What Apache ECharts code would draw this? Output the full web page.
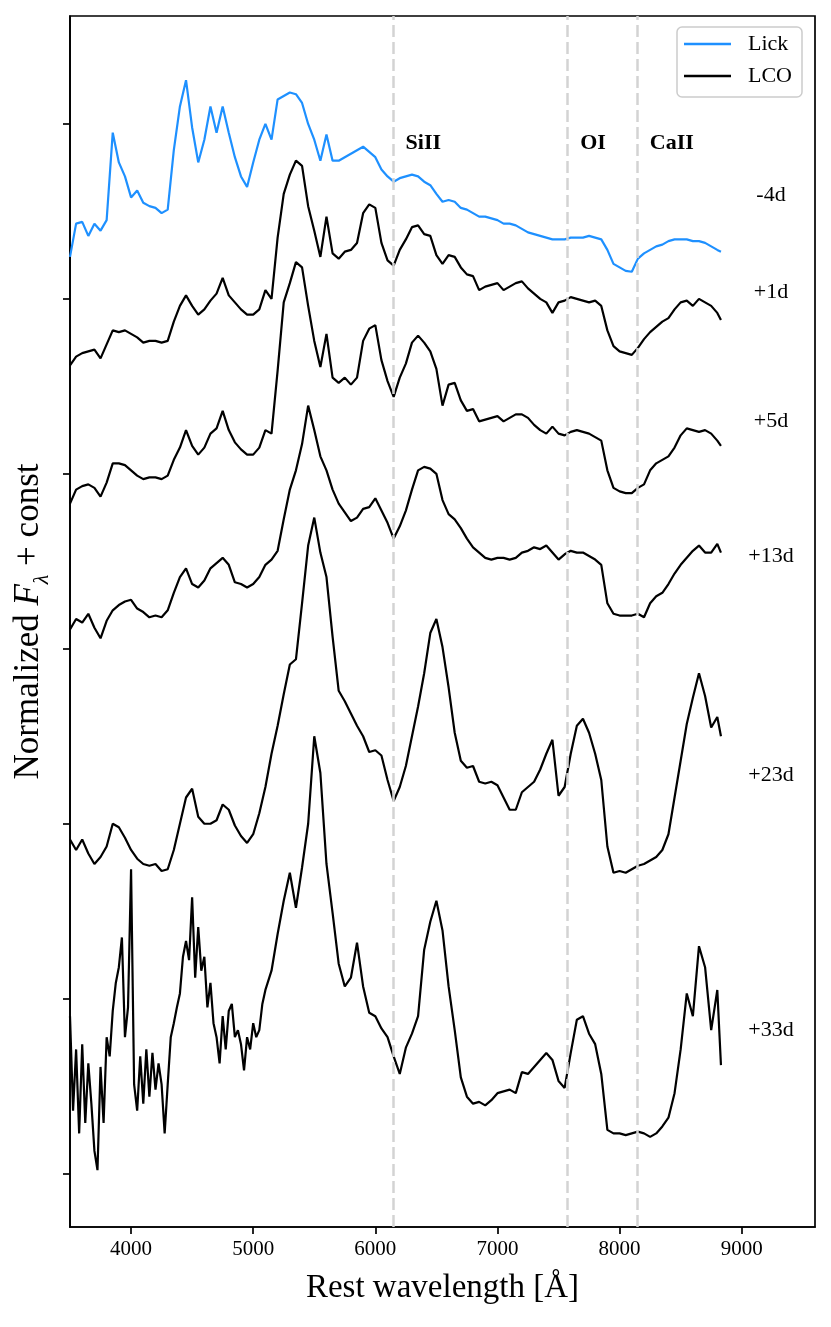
<!DOCTYPE html>
<html>
<head>
<meta charset="utf-8">
<title>Spectral sequence</title>
<script src="https://cdn.jsdelivr.net/npm/echarts@6/dist/echarts.min.js"></script>
<style>
  html, body { margin: 0; padding: 0; background: #fff; }
  #chart { width: 831px; height: 1327px; }
</style>
</head>
<body>
<div id="chart"></div>
<script>
// rest wavelength grid (Angstrom) shared by the Lick and first four LCO spectra
const wave = [
  3500, 3550, 3600, 3650, 3700, 3750, 3800, 3850, 3900, 3950,
  4000, 4050, 4100, 4150, 4200, 4250, 4300, 4350, 4400, 4450,
  4500, 4550, 4600, 4650, 4700, 4750, 4800, 4850, 4900, 4950,
  5000, 5050, 5100, 5150, 5200, 5250, 5300, 5350, 5400, 5450,
  5500, 5550, 5600, 5650, 5700, 5750, 5800, 5850, 5900, 5950,
  6000, 6050, 6100, 6150, 6200, 6250, 6300, 6350, 6400, 6450,
  6500, 6550, 6600, 6650, 6700, 6750, 6800, 6850, 6900, 6950,
  7000, 7050, 7100, 7150, 7200, 7250, 7300, 7350, 7400, 7450,
  7500, 7550, 7600, 7650, 7700, 7750, 7800, 7850, 7900, 7950,
  8000, 8050, 8100, 8150, 8200, 8250, 8300, 8350, 8400, 8450,
  8500, 8550, 8600, 8650, 8700, 8750, 8800, 8830
];
// the noisy +33d spectrum is read more finely in the blue
const wave33 = [
  3500, 3525, 3550, 3575, 3600, 3625, 3650, 3675, 3700, 3725,
  3750, 3775, 3800, 3825, 3850, 3875, 3900, 3925, 3950, 3975,
  4000, 4025, 4050, 4075, 4100, 4125, 4150, 4175, 4200, 4225,
  4250, 4275, 4300, 4325, 4350, 4375, 4400, 4425, 4450, 4475,
  4500, 4525, 4550, 4575, 4600, 4625, 4650, 4675, 4700, 4725,
  4750, 4775, 4800, 4825, 4850, 4875, 4900, 4925, 4950, 4975,
  5000, 5025, 5050, 5075, 5100,
  5150, 5200, 5250, 5300, 5350, 5400, 5450, 5500, 5550, 5600,
  5650, 5700, 5750, 5800, 5850, 5900, 5950, 6000, 6050, 6100,
  6150, 6200, 6250, 6300, 6350, 6400, 6450, 6500, 6550, 6600,
  6650, 6700, 6750, 6800, 6850, 6900, 6950, 7000, 7050, 7100,
  7150, 7200, 7250, 7300, 7350, 7400, 7450, 7500, 7550, 7600,
  7650, 7700, 7750, 7800, 7850, 7900, 7950, 8000, 8050, 8100,
  8150, 8200, 8250, 8300, 8350, 8400, 8450, 8500, 8550, 8600,
  8650, 8700, 8750, 8800, 8830
];

// normalized flux + offset, one array per epoch
const lickM4 = [
  5.24, 5.43, 5.44, 5.36, 5.43, 5.39, 5.45, 5.95, 5.78, 5.70,
  5.58, 5.62, 5.55, 5.53, 5.52, 5.49, 5.51, 5.85, 6.10, 6.25,
  5.98, 5.78, 5.91, 6.10, 5.95, 6.10, 5.95, 5.81, 5.70, 5.64,
  5.78, 5.91, 6.00, 5.91, 6.14, 6.16, 6.18, 6.17, 6.12, 6.00,
  5.91, 5.79, 5.94, 5.79, 5.79, 5.81, 5.83, 5.85, 5.87, 5.84,
  5.81, 5.74, 5.70, 5.67, 5.69, 5.70, 5.71, 5.70, 5.67, 5.65,
  5.60, 5.555, 5.565, 5.555, 5.52, 5.51, 5.49, 5.47, 5.47, 5.46,
  5.45, 5.43, 5.43, 5.42, 5.40, 5.38, 5.37, 5.36, 5.35, 5.34,
  5.34, 5.34, 5.35, 5.35, 5.35, 5.36, 5.35, 5.34, 5.28, 5.20,
  5.18, 5.16, 5.155, 5.23, 5.26, 5.28, 5.30, 5.31, 5.33, 5.34,
  5.34, 5.34, 5.33, 5.33, 5.32, 5.30, 5.28, 5.27
];
const lcoP1 = [
  4.62, 4.67, 4.69, 4.70, 4.71, 4.66, 4.74, 4.82, 4.81, 4.82,
  4.80, 4.78, 4.75, 4.76, 4.76, 4.75, 4.76, 4.87, 4.96, 5.02,
  4.96, 4.91, 4.94, 4.99, 5.03, 5.12, 5.02, 4.98, 4.94, 4.91,
  4.91, 4.94, 5.05, 5.00, 5.35, 5.60, 5.71, 5.79, 5.76, 5.53,
  5.39, 5.24, 5.47, 5.26, 5.23, 5.27, 5.28, 5.32, 5.49, 5.54,
  5.52, 5.32, 5.22, 5.19, 5.28, 5.34, 5.41, 5.42, 5.37, 5.36,
  5.25, 5.20, 5.25, 5.24, 5.18, 5.14, 5.13, 5.05, 5.07, 5.08,
  5.09, 5.05, 5.07, 5.09, 5.10, 5.06, 5.03, 5.00, 4.98, 4.92,
  4.98, 4.99, 5.01, 5.00, 4.99, 4.98, 4.99, 4.96, 4.82, 4.73,
  4.70, 4.69, 4.68, 4.72, 4.77, 4.81, 4.84, 4.87, 4.89, 4.94,
  4.98, 4.99, 4.96, 5.00, 4.98, 4.96, 4.92, 4.88
];
const lcoP5 = [
  3.83, 3.91, 3.93, 3.94, 3.92, 3.87, 3.95, 4.06, 4.06, 4.05,
  4.02, 3.99, 3.97, 3.98, 3.98, 3.97, 3.99, 4.08, 4.15, 4.25,
  4.16, 4.11, 4.15, 4.23, 4.26, 4.36, 4.25, 4.18, 4.14, 4.11,
  4.11, 4.15, 4.25, 4.23, 4.59, 4.98, 5.09, 5.21, 5.18, 4.96,
  4.76, 4.61, 4.80, 4.55, 4.52, 4.55, 4.51, 4.55, 4.76, 4.83,
  4.85, 4.65, 4.53, 4.44, 4.55, 4.63, 4.75, 4.79, 4.75, 4.70,
  4.60, 4.39, 4.51, 4.52, 4.42, 4.36, 4.37, 4.30, 4.31, 4.32,
  4.33, 4.30, 4.32, 4.34, 4.34, 4.32, 4.28, 4.25, 4.23, 4.27,
  4.23, 4.22, 4.24, 4.25, 4.24, 4.23, 4.21, 4.19, 4.02, 3.92,
  3.90, 3.89, 3.89, 3.92, 3.94, 4.02, 4.06, 4.08, 4.10, 4.15,
  4.22, 4.26, 4.25, 4.24, 4.25, 4.23, 4.19, 4.16
];
const lcoP13 = [
  3.11, 3.17, 3.15, 3.20, 3.12, 3.06, 3.16, 3.22, 3.25, 3.27,
  3.28, 3.23, 3.21, 3.18, 3.19, 3.18, 3.22, 3.32, 3.41, 3.46,
  3.37, 3.35, 3.39, 3.46, 3.49, 3.52, 3.48, 3.38, 3.37, 3.35,
  3.37, 3.41, 3.48, 3.51, 3.56, 3.74, 3.91, 4.02, 4.17, 4.39,
  4.25, 4.10, 4.02, 3.91, 3.83, 3.78, 3.73, 3.75, 3.80, 3.81,
  3.86, 3.79, 3.72, 3.63, 3.70, 3.79, 3.91, 4.02, 4.04, 4.03,
  4.00, 3.85, 3.77, 3.74, 3.69, 3.63, 3.58, 3.55, 3.52, 3.51,
  3.52, 3.52, 3.51, 3.52, 3.55, 3.56, 3.58, 3.57, 3.59, 3.55,
  3.51, 3.54, 3.56, 3.55, 3.55, 3.53, 3.51, 3.48, 3.26, 3.20,
  3.19, 3.19, 3.19, 3.20, 3.18, 3.26, 3.30, 3.32, 3.37, 3.43,
  3.48, 3.52, 3.56, 3.59, 3.55, 3.55, 3.60, 3.55
];
const lcoP23 = [
  1.91, 1.85, 1.91, 1.83, 1.77, 1.81, 1.87, 2.00, 1.98, 1.92,
  1.85, 1.80, 1.77, 1.76, 1.77, 1.73, 1.74, 1.85, 2.00, 2.15,
  2.20, 2.04, 2.00, 2.00, 2.02, 2.11, 2.08, 1.99, 1.93, 1.89,
  1.94, 2.06, 2.21, 2.40, 2.56, 2.74, 2.91, 2.94, 3.26, 3.59,
  3.75, 3.55, 3.41, 3.07, 2.76, 2.70, 2.63, 2.56, 2.50, 2.41,
  2.42, 2.39, 2.25, 2.13, 2.21, 2.33, 2.50, 2.67, 2.86, 3.09,
  3.17, 3.01, 2.78, 2.52, 2.36, 2.32, 2.33, 2.24, 2.23, 2.24,
  2.22, 2.15, 2.08, 2.08, 2.18, 2.21, 2.24, 2.31, 2.40, 2.48,
  2.16, 2.21, 2.40, 2.56, 2.60, 2.52, 2.40, 2.25, 1.87, 1.72,
  1.73, 1.72, 1.74, 1.76, 1.77, 1.79, 1.81, 1.85, 1.94, 2.15,
  2.36, 2.57, 2.72, 2.86, 2.73, 2.55, 2.61, 2.50
];
const lcoP33 = [
  0.90, 0.36, 0.71, 0.23, 0.74, 0.29, 0.63, 0.40, 0.13, 0.02,
  0.61, 0.29, 0.78, 0.67, 0.93, 1.09, 1.18, 1.35, 0.78, 0.95,
  1.74, 0.51, 0.36, 0.67, 0.40, 0.71, 0.44, 0.69, 0.48, 0.63,
  0.51, 0.23, 0.51, 0.78, 0.86, 0.95, 1.03, 1.24, 1.33, 1.22,
  1.58, 1.12, 1.41, 1.16, 1.24, 0.95, 1.09, 0.86, 0.78, 0.63,
  0.90, 0.71, 0.93, 0.97, 0.78, 0.82, 0.74, 0.59, 0.78, 0.71,
  0.86, 0.78, 0.82, 0.97, 1.05,
  1.16, 1.37, 1.56, 1.72, 1.52, 1.75, 2.00, 2.50, 2.29, 1.77,
  1.49, 1.20, 1.07, 1.12, 1.32, 1.07, 0.92, 0.90, 0.83, 0.78,
  0.67, 0.57, 0.72, 0.80, 0.90, 1.28, 1.44, 1.56, 1.39, 1.07,
  0.82, 0.55, 0.44, 0.40, 0.41, 0.39, 0.42, 0.46, 0.47, 0.48,
  0.46, 0.58, 0.57, 0.61, 0.65, 0.69, 0.65, 0.53, 0.49, 0.69,
  0.88, 0.90, 0.80, 0.74, 0.57, 0.25, 0.23, 0.23, 0.22, 0.23,
  0.24, 0.23, 0.21, 0.23, 0.27, 0.32, 0.46, 0.71, 1.03, 0.90,
  1.30, 1.18, 0.82, 1.05, 0.62
];

const epochNames = ['-4d', '+1d', '+5d', '+13d', '+23d', '+33d'];
const epochLabelY = [5.59, 5.04, 4.30, 3.53, 2.28, 0.82];
const epochLabelX = 9240;

const ionNames = ['SiII', 'OI', 'CaII'];
const ionWave = [6145, 7575, 8145];
const ionLabelY = 5.89;

const xTicks = [4000, 5000, 6000, 7000, 8000, 9000];
const yTicks = [0, 1, 2, 3, 4, 5, 6];

const FONT = 'Liberation Serif';
const pairs = (xs, vals) => xs.map((w, i) => [w, vals[i]]);

const lcoSpectra = [
  [wave, lcoP1], [wave, lcoP5], [wave, lcoP13], [wave, lcoP23], [wave33, lcoP33]
];

const chart = echarts.init(document.getElementById('chart'));

const series = [
  {
    name: 'Lick',
    type: 'line',
    data: pairs(wave, lickM4),
    symbol: 'none',
    lineStyle: { color: '#1e90ff', width: 2.2 },
    itemStyle: { color: '#1e90ff' },
    z: 2
  }
];
lcoSpectra.forEach(([xs, vals]) => {
  series.push({
    name: 'LCO',
    type: 'line',
    data: pairs(xs, vals),
    symbol: 'none',
    lineStyle: { color: '#000', width: 2.2 },
    itemStyle: { color: '#000' },
    z: 2
  });
});

// dashed feature lines, drawn over the spectra
series.push({
  name: 'features',
  type: 'line',
  data: [],
  z: 5,
  markLine: {
    silent: true,
    symbol: 'none',
    label: { show: false },
    lineStyle: { color: '#d3d3d3', type: [12, 5], width: 2.5 },
    data: ionWave.map(x => ({ xAxis: x }))
  }
});

series.push({
  name: 'ions',
  type: 'scatter',
  symbolSize: 1,
  itemStyle: { color: 'rgba(0,0,0,0)' },
  z: 6,
  label: {
    show: true,
    position: 'right',
    distance: 12,
    formatter: p => ionNames[p.dataIndex],
    fontFamily: FONT,
    fontSize: 22,
    fontWeight: 'bold',
    color: '#000',
    opacity: 1,
    textBorderWidth: 0
  },
  data: ionWave.map(x => [x, ionLabelY])
});

series.push({
  name: 'epochs',
  type: 'scatter',
  symbolSize: 1,
  itemStyle: { color: 'rgba(0,0,0,0)' },
  z: 6,
  label: {
    show: true,
    position: 'inside',
    formatter: p => epochNames[p.dataIndex],
    fontFamily: FONT,
    fontSize: 22,
    color: '#000',
    opacity: 1,
    textBorderWidth: 0
  },
  data: epochLabelY.map(y => [epochLabelX, y])
});

const option = {
  animation: false,
  backgroundColor: '#fff',
  grid: {
    left: 70, right: 16, top: 16, bottom: 100,
    containLabel: false,
    outerBoundsMode: 'none',
    show: true, borderColor: '#000', borderWidth: 1.7,
    backgroundColor: 'transparent'
  },
  legend: {
    data: [{ name: 'Lick', icon: 'rect' }, { name: 'LCO', icon: 'rect' }],
    orient: 'vertical',
    left: 677, top: 27,
    itemWidth: 47, itemHeight: 2.5,
    itemGap: 10,
    padding: [6, 10, 10, 7],
    backgroundColor: 'rgba(255,255,255,0.8)',
    borderColor: '#cccccc', borderWidth: 1.5, borderRadius: 5,
    selectedMode: false,
    textStyle: { fontFamily: FONT, fontSize: 22, color: '#000', padding: [0, 0, 0, 12] }
  },
  xAxis: {
    type: 'value',
    min: 3500, max: 9600,
    name: 'Rest wavelength [Å]',
    nameLocation: 'middle',
    nameGap: 45,
    nameTextStyle: { fontFamily: FONT, fontSize: 33, color: '#000' },
    axisLine: { show: true, onZero: false, lineStyle: { color: '#000', width: 1.7 } },
    axisTick: { show: true, customValues: xTicks, length: 7, lineStyle: { color: '#000', width: 1.7 } },
    axisLabel: {
      customValues: xTicks, formatter: v => String(v),
      fontFamily: FONT, fontSize: 21, color: '#000', margin: 12
    },
    splitLine: { show: false }
  },
  yAxis: {
    type: 'value',
    min: -0.305, max: 6.617,
    name: 'Normalized {it|F}{sub|λ} + const',
    nameLocation: 'middle',
    nameGap: 17,
    nameTextStyle: {
      fontFamily: FONT, fontSize: 35, color: '#000', lineHeight: 35,
      rich: {
        it: { fontFamily: FONT, fontSize: 35, fontStyle: 'italic', color: '#000', lineHeight: 35 },
        sub: { fontFamily: FONT, fontSize: 22, fontStyle: 'italic', color: '#000', lineHeight: 49, verticalAlign: 'bottom' }
      }
    },
    axisLine: { show: true, onZero: false, lineStyle: { color: '#000', width: 1.7 } },
    axisTick: { show: true, customValues: yTicks, length: 7, lineStyle: { color: '#000', width: 1.7 } },
    axisLabel: { show: false },
    splitLine: { show: false }
  },
  series: series
};

chart.setOption(option);
</script>
</body>
</html>
